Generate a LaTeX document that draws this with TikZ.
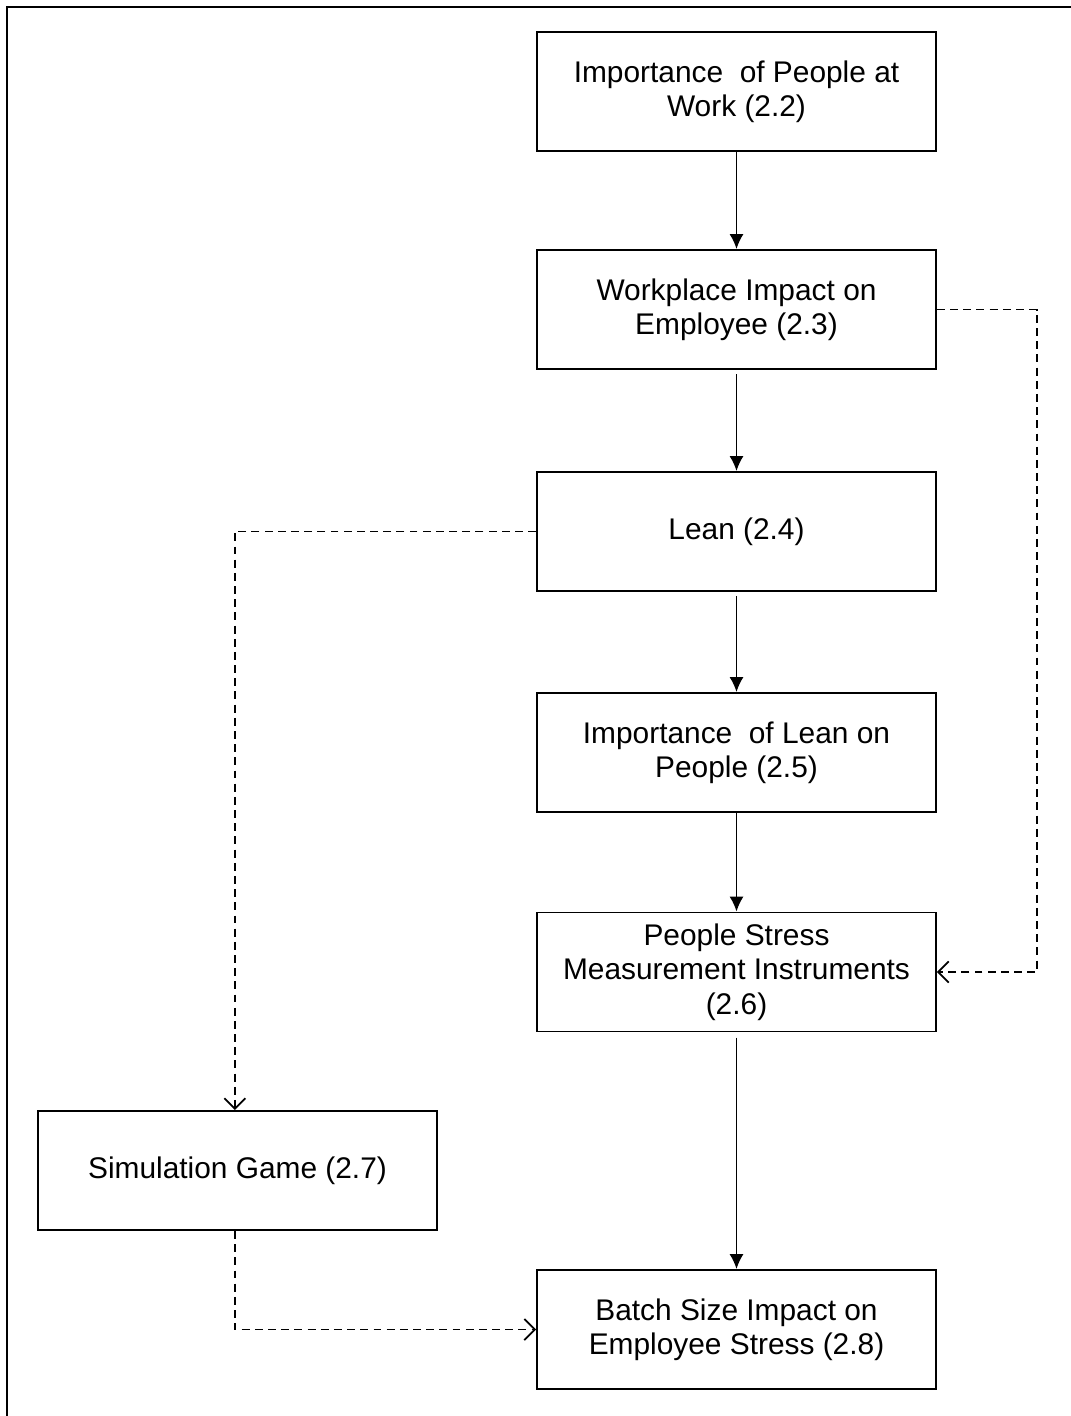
\documentclass[tikz,border=0pt]{standalone}
\usepackage{fontspec}
\setmainfont{Liberation Sans}
\usetikzlibrary{arrows.meta}
\begin{document}
\begin{tikzpicture}[x=0.02cm,y=-0.02cm,
  box/.style={draw,line width=1.1pt,minimum width=7.98cm,minimum height=2.38cm,
    align=center,inner sep=0pt,font=\fontsize{17}{19.5}\selectfont},
  solidarrow/.style={line width=1pt,-{Latex[length=8.5pt,width=8pt]}},
  dasharrow/.style={line width=1pt,dash pattern=on 4.5pt off 3pt,
    -{Straight Barb[length=6pt,width=12pt]}}]
\useasboundingbox (0,0) rectangle (1071,1416);
% frame along the top and left edges
\draw[line width=1.7pt] (7,1416) -- (7,7) -- (1071,7);

% topics
\node[box] (n1) at (736.5,91.5)  {Importance\ \ of People at\\Work (2.2)};
\node[box] (n2) at (736.5,309.5) {Workplace Impact on\\Employee (2.3)};
\node[box] (n3) at (736.5,531.5) {Lean (2.4)};
\node[box] (n4) at (736.5,752.5) {Importance\ \ of Lean on\\People (2.5)};
\node[box] (n5) at (736.5,972)   {People Stress\\Measurement Instruments\\(2.6)};
\node[box] (n6) at (237.5,1170.5) {Simulation Game (2.7)};
\node[box] (n7) at (736.5,1329.5) {Batch Size Impact on\\Employee Stress (2.8)};

% main sequence
\draw[solidarrow] (n1) -- (n2);
\draw[solidarrow,shorten <=2.5pt] (n2) -- (n3);
\draw[solidarrow,shorten <=2.5pt] (n3) -- (n4);
\draw[solidarrow] (n4) -- (n5);
\draw[solidarrow,shorten <=3pt] (n5) -- (n7);

% side links
\draw[dasharrow] (n2.east) -- ++(100,0) |- (n5.east);
\draw[dasharrow] (n3.west) -| ([xshift=-1.5]n6.north);
\draw[dasharrow] ([xshift=-1.5]n6.south) |- (n7.west);
\end{tikzpicture}
\end{document}
